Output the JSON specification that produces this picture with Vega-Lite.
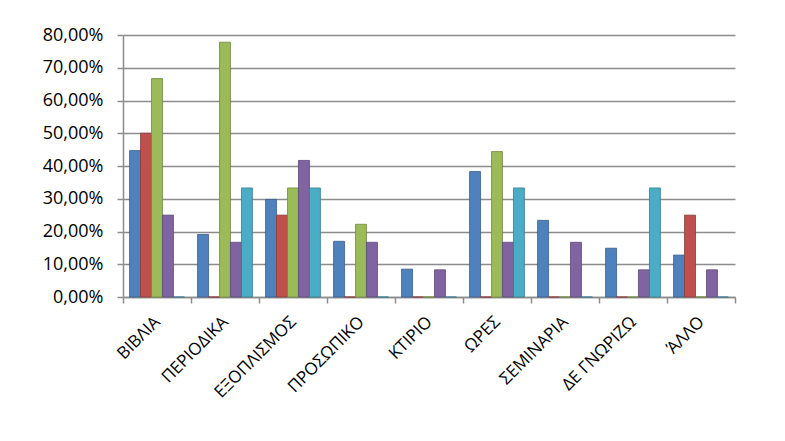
{
  "$schema": "https://vega.github.io/schema/vega-lite/v6.json",
  "width": 612,
  "height": 262,
  "autosize": {"type": "none"},
  "padding": {"left": 123, "top": 35, "right": 50, "bottom": 144},
  "background": "white",
  "data": {
    "values": [
      {"cat": "ΒΙΒΛΙΑ", "s": "1", "v": 0.447},
      {"cat": "ΒΙΒΛΙΑ", "s": "2", "v": 0.5},
      {"cat": "ΒΙΒΛΙΑ", "s": "3", "v": 0.667},
      {"cat": "ΒΙΒΛΙΑ", "s": "4", "v": 0.25},
      {"cat": "ΒΙΒΛΙΑ", "s": "5", "v": 0},
      {"cat": "ΠΕΡΙΟΔΙΚΑ", "s": "1", "v": 0.191},
      {"cat": "ΠΕΡΙΟΔΙΚΑ", "s": "2", "v": 0},
      {"cat": "ΠΕΡΙΟΔΙΚΑ", "s": "3", "v": 0.778},
      {"cat": "ΠΕΡΙΟΔΙΚΑ", "s": "4", "v": 0.167},
      {"cat": "ΠΕΡΙΟΔΙΚΑ", "s": "5", "v": 0.333},
      {"cat": "ΕΞΟΠΛΙΣΜΟΣ", "s": "1", "v": 0.298},
      {"cat": "ΕΞΟΠΛΙΣΜΟΣ", "s": "2", "v": 0.25},
      {"cat": "ΕΞΟΠΛΙΣΜΟΣ", "s": "3", "v": 0.333},
      {"cat": "ΕΞΟΠΛΙΣΜΟΣ", "s": "4", "v": 0.417},
      {"cat": "ΕΞΟΠΛΙΣΜΟΣ", "s": "5", "v": 0.333},
      {"cat": "ΠΡΟΣΩΠΙΚΟ", "s": "1", "v": 0.17},
      {"cat": "ΠΡΟΣΩΠΙΚΟ", "s": "2", "v": 0},
      {"cat": "ΠΡΟΣΩΠΙΚΟ", "s": "3", "v": 0.222},
      {"cat": "ΠΡΟΣΩΠΙΚΟ", "s": "4", "v": 0.167},
      {"cat": "ΠΡΟΣΩΠΙΚΟ", "s": "5", "v": 0},
      {"cat": "ΚΤΙΡΙΟ", "s": "1", "v": 0.085},
      {"cat": "ΚΤΙΡΙΟ", "s": "2", "v": 0},
      {"cat": "ΚΤΙΡΙΟ", "s": "3", "v": 0},
      {"cat": "ΚΤΙΡΙΟ", "s": "4", "v": 0.083},
      {"cat": "ΚΤΙΡΙΟ", "s": "5", "v": 0},
      {"cat": "ΩΡΕΣ", "s": "1", "v": 0.383},
      {"cat": "ΩΡΕΣ", "s": "2", "v": 0},
      {"cat": "ΩΡΕΣ", "s": "3", "v": 0.444},
      {"cat": "ΩΡΕΣ", "s": "4", "v": 0.167},
      {"cat": "ΩΡΕΣ", "s": "5", "v": 0.333},
      {"cat": "ΣΕΜΙΝΑΡΙΑ", "s": "1", "v": 0.234},
      {"cat": "ΣΕΜΙΝΑΡΙΑ", "s": "2", "v": 0},
      {"cat": "ΣΕΜΙΝΑΡΙΑ", "s": "3", "v": 0},
      {"cat": "ΣΕΜΙΝΑΡΙΑ", "s": "4", "v": 0.167},
      {"cat": "ΣΕΜΙΝΑΡΙΑ", "s": "5", "v": 0},
      {"cat": "ΔΕ ΓΝΩΡΙΖΩ", "s": "1", "v": 0.149},
      {"cat": "ΔΕ ΓΝΩΡΙΖΩ", "s": "2", "v": 0},
      {"cat": "ΔΕ ΓΝΩΡΙΖΩ", "s": "3", "v": 0},
      {"cat": "ΔΕ ΓΝΩΡΙΖΩ", "s": "4", "v": 0.083},
      {"cat": "ΔΕ ΓΝΩΡΙΖΩ", "s": "5", "v": 0.333},
      {"cat": "ΆΛΛΟ", "s": "1", "v": 0.128},
      {"cat": "ΆΛΛΟ", "s": "2", "v": 0.25},
      {"cat": "ΆΛΛΟ", "s": "3", "v": 0},
      {"cat": "ΆΛΛΟ", "s": "4", "v": 0.083},
      {"cat": "ΆΛΛΟ", "s": "5", "v": 0}
    ]
  },
  "mark": {"type": "bar", "strokeWidth": 0.8},
  "encoding": {
    "x": {
      "field": "cat",
      "type": "nominal",
      "sort": null,
      "scale": {"paddingInner": 0, "paddingOuter": 0},
      "axis": {
        "title": null,
        "tickBand": "extent",
        "labelAngle": -45,
        "labelAlign": "right",
        "labelBaseline": "middle",
        "labelPadding": 16,
        "labelFont": "Open Sans",
        "labelFontSize": 17,
        "labelColor": "#000000",
        "domainColor": "#8c8c8c",
        "domainWidth": 1.5,
        "tickColor": "#8c8c8c",
        "tickWidth": 1.5,
        "tickSize": 6,
        "grid": false
      }
    },
    "xOffset": {
      "field": "s",
      "type": "nominal",
      "sort": ["1", "2", "3", "4", "5"],
      "scale": {"paddingInner": 0, "paddingOuter": 0.6}
    },
    "y": {
      "field": "v",
      "type": "quantitative",
      "scale": {"domain": [0, 0.8], "nice": false},
      "axis": {
        "title": null,
        "values": [0, 0.1, 0.2, 0.3, 0.4, 0.5, 0.6, 0.7, 0.8],
        "labelExpr": "replace(format(datum.value, '.2%'), '.', ',')",
        "labelFont": "Open Sans",
        "labelFontSize": 18,
        "labelColor": "#000000",
        "labelPadding": 14,
        "domainColor": "#8c8c8c",
        "domainWidth": 1.5,
        "tickColor": "#8c8c8c",
        "tickWidth": 1.5,
        "tickSize": 6,
        "grid": true,
        "gridColor": "#8c8c8c",
        "gridWidth": 1.5
      }
    },
    "color": {
      "field": "s",
      "type": "nominal",
      "sort": ["1", "2", "3", "4", "5"],
      "scale": {
        "domain": ["1", "2", "3", "4", "5"],
        "range": ["#4F81BD", "#C0504D", "#9BBB59", "#8064A2", "#4BACC6"]
      },
      "legend": null
    },
    "stroke": {
      "field": "s",
      "type": "nominal",
      "scale": {
        "domain": ["1", "2", "3", "4", "5"],
        "range": ["#385d8a", "#8c3836", "#71893f", "#5c4776", "#357d91"]
      },
      "legend": null
    }
  },
  "config": {
    "view": {"stroke": null}
  }
}
